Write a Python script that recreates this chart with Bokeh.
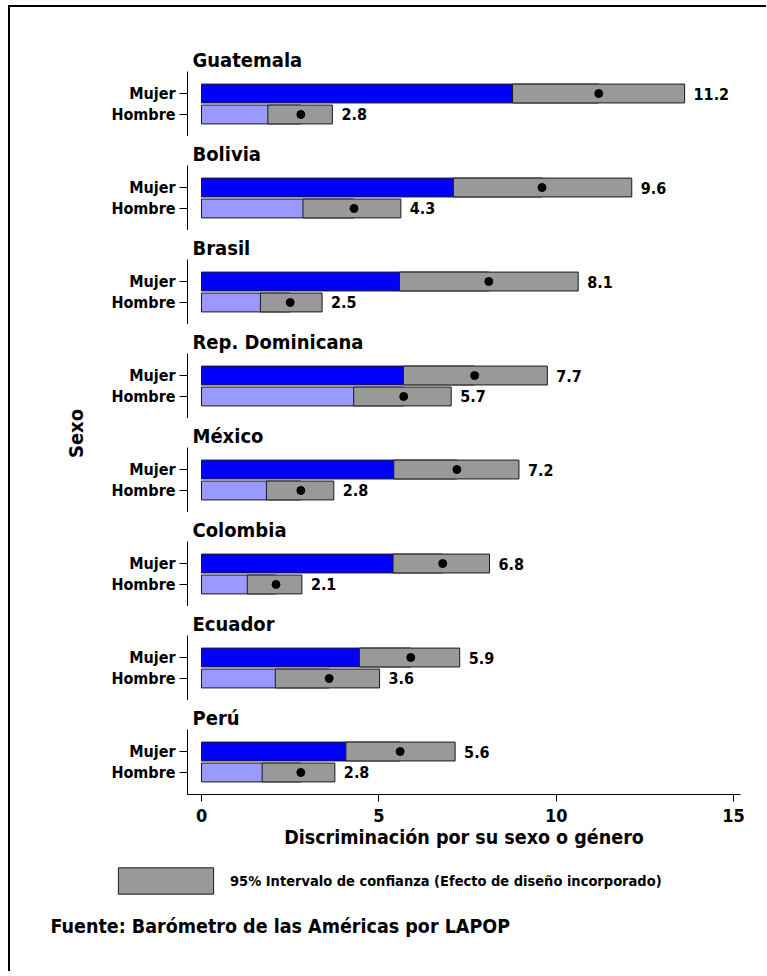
from bokeh.plotting import figure
from bokeh.layouts import column, row
from bokeh.models import (Range1d, FactorRange, FixedTicker, Label, Legend,
                          LegendItem, ColumnDataSource)
from bokeh.embed import file_html
from bokeh.resources import INLINE
from bokeh.core.properties import value

# ---------------- data ----------------
countries = ["Guatemala", "Bolivia", "Brasil", "Rep. Dominicana",
             "México", "Colombia", "Ecuador", "Perú"]
sexes = ["Hombre", "Mujer"]

mujer_mean = [11.2, 9.6, 8.1, 7.7, 7.2, 6.8, 5.9, 5.6]
mujer_lo = [8.77, 7.10, 5.58, 5.69, 5.42, 5.40, 4.45, 4.07]
mujer_hi = [13.62, 12.13, 10.62, 9.75, 8.95, 8.12, 7.28, 7.15]

hombre_mean = [2.8, 4.3, 2.5, 5.7, 2.8, 2.1, 3.6, 2.8]
hombre_lo = [1.87, 2.86, 1.66, 4.29, 1.83, 1.29, 2.08, 1.71]
hombre_hi = [3.69, 5.62, 3.40, 7.04, 3.73, 2.83, 5.02, 3.76]

x_ticks = [0, 5, 10, 15]
x_title = "Discriminación por su sexo o género"
y_title = "Sexo"
legend_label = "95% Intervalo de confianza (Efecto de diseño incorporado)"
source_note = "Fuente: Barómetro de las Américas por LAPOP"

# ---------------- style ----------------
FONT = "'Liberation Sans Narrow', 'Arial Narrow', 'DejaVu Sans Condensed', sans-serif"
BLUE = "#0000FF"
LIGHT = "#9999FF"
GRAY = "#999999"
EDGE = "#1a1a1a"

X_START, X_END = -0.395, 15.196

PANEL_W = 658
panels = []
n = len(countries)
for i, c in enumerate(countries):
    first = i == 0
    last = i == n - 1
    top = 64 if first else 29
    bottom = 57 if last else 0
    h = top + 65 + bottom
    p = figure(width=PANEL_W, height=h,
               x_range=Range1d(X_START, X_END),
               y_range=FactorRange(factors=sexes, range_padding=0.55,
                                   range_padding_units="absolute"),
               output_backend="svg", toolbar_location=None,
               min_border_left=79, min_border_right=PANEL_W - 79 - 553,
               min_border_top=top, min_border_bottom=bottom)
    p.outline_line_color = None
    p.grid.visible = False

    src = ColumnDataSource(dict(
        sex=["Mujer", "Hombre"],
        mean=[mujer_mean[i], hombre_mean[i]],
        lo=[mujer_lo[i], hombre_lo[i]],
        hi=[mujer_hi[i], hombre_hi[i]],
        color=[BLUE, LIGHT],
        label=[f"{mujer_mean[i]:.1f}", f"{hombre_mean[i]:.1f}"],
    ))
    p.hbar(y="sex", left=0, right="mean", height=0.9, fill_color="color",
           line_color=EDGE, line_width=1, source=src)
    p.hbar(y="sex", left="lo", right="hi", height=0.9, fill_color=GRAY,
           line_color=EDGE, line_width=1, source=src)
    p.scatter(x="mean", y="sex", size=8, color="black", source=src)
    p.text(x="hi", y="sex", text="label", x_offset=9, text_baseline="middle",
           text_font=value(FONT), text_font_size="16px",
           text_font_style="bold", text_color="black", source=src)

    p.title.text = c
    p.title.text_font = FONT
    p.title.text_font_size = "20px"
    p.title.text_font_style = "bold"
    p.title.text_color = "black"
    p.title.offset = 5
    p.title.standoff = 0

    ya = p.yaxis[0]
    ya.axis_line_color = "black"
    ya.axis_line_width = 1
    ya.major_tick_line_color = "black"
    ya.major_tick_out = 8
    ya.major_tick_in = 0
    ya.major_label_standoff = 4
    ya.major_label_text_font = FONT
    ya.major_label_text_font_size = "16px"
    ya.major_label_text_font_style = "bold"
    ya.major_label_text_color = "black"

    xa = p.xaxis[0]
    if last:
        xa.ticker = FixedTicker(ticks=x_ticks)
        xa.axis_line_color = "black"
        xa.major_tick_line_color = "black"
        xa.major_tick_out = 7
        xa.major_tick_in = 0
        xa.minor_tick_line_color = None
        xa.major_label_standoff = 7
        xa.major_label_text_font = FONT
        xa.major_label_text_font_size = "18px"
        xa.major_label_text_font_style = "bold"
        xa.major_label_text_color = "black"
        xa.axis_label = x_title
        xa.axis_label_text_font = FONT
        xa.axis_label_text_font_size = "19.5px"
        xa.axis_label_text_font_style = "bold"
        xa.axis_label_text_color = "black"
        xa.axis_label_standoff = 1
    else:
        xa.visible = False
    panels.append(p)

panel_h = sum(pp.height for pp in panels)

# y-axis title column
side = figure(width=98, height=panel_h, x_range=Range1d(0, 98),
              y_range=Range1d(0, panel_h), output_backend="svg",
              toolbar_location=None, min_border=0)
side.axis.visible = False
side.grid.visible = False
side.outline_line_color = None
side.add_layout(Label(x=65, y=panel_h - 426, x_units="screen", y_units="screen",
                      text=y_title, angle=90, angle_units="deg",
                      text_align="center", text_baseline="middle",
                      text_font=FONT, text_font_size="20px",
                      text_font_style="bold", text_color="black"))

# footer: legend + source
fh = 120
FOOT_W = 98 + PANEL_W
footer = figure(width=FOOT_W, height=fh, x_range=Range1d(0, FOOT_W),
                y_range=Range1d(0, fh), output_backend="svg",
                toolbar_location=None, min_border=0)
footer.axis.visible = False
footer.grid.visible = False
footer.outline_line_color = None
# legend proxy for the CI boxes (kept outside the visible range)
ci_r = footer.rect(x=[-1000], y=[-1000], width=1, height=1, fill_color=GRAY,
                   line_color=EDGE, line_width=1)
leg = Legend(items=[LegendItem(label=legend_label, renderers=[ci_r])],
             location=(96, 74), glyph_width=119, glyph_height=33,
             padding=0, margin=0, spacing=0, border_line_color=None,
             background_fill_alpha=0, label_standoff=5,
             label_text_font=FONT, label_text_font_size="14.5px",
             label_text_font_style="bold", label_text_color="black",
             label_height=33, label_text_baseline="middle")
footer.add_layout(leg)
footer.add_layout(Label(x=40, y=45, x_units="screen", y_units="screen",
                        text=source_note, text_baseline="middle",
                        text_font=FONT, text_font_size="19.5px",
                        text_font_style="bold", text_color="black"))

layout = column(row(side, column(*panels, spacing=0), spacing=0), footer,
                spacing=0,
                styles={"border-style": "solid none none solid",
                        "border-width": "2px 0px 0px 2px",
                        "border-color": "black",
                        "margin-left": "8px", "margin-top": "5px"})

with open("out.html", "w") as f:
    f.write(file_html(layout, INLINE))
